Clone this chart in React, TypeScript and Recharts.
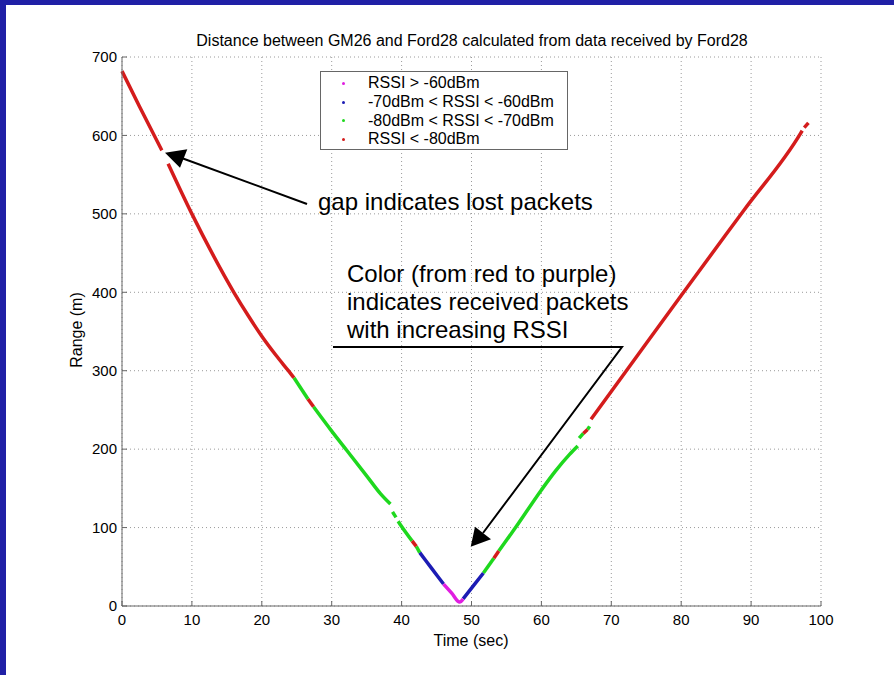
import { CartesianGrid, Legend, Line, LineChart, XAxis, YAxis } from "recharts";

const TIME_TICKS = [0, 10, 20, 30, 40, 50, 60, 70, 80, 90, 100];
const RANGE_TICKS = [0, 100, 200, 300, 400, 500, 600, 700];

const RSSI_LABELS = [
  "RSSI > -60dBm",
  "-70dBm < RSSI < -60dBm",
  "-80dBm < RSSI < -70dBm",
  "RSSI < -80dBm",
];
const RSSI_COLORS = ["#e01ee0", "#1c1cb4", "#1ed81e", "#d41c1c"];

// runs of received packets, [time (sec), range (m)], one list per RSSI class
const purpleRuns = [
  [[46, 28], [47.2, 16], [48.3, 5], [48.8, 9]],
];
const blueRuns = [
  [[42.6, 68], [44.3, 48], [46, 28]],
  [[48.8, 9], [50.2, 25], [51.7, 42]],
];
const greenRuns = [
  [[24.6, 291], [26.6, 264]],
  [[27.4, 254], [30, 223], [32.2, 198], [35, 166], [37, 143], [38.4, 130]],
  [[38.7, 120], [39.2, 113]],
  [[39.5, 108], [39.8, 104], [41.5, 83]],
  [[42.1, 76], [42.6, 68]],
  [[51.7, 42], [53.2, 61]],
  [[53.9, 70], [56.3, 100], [60, 148], [62, 172], [64, 193], [65.2, 204]],
  [[65.4, 214], [66, 220]],
  [[66.6, 225], [66.9, 229]],
];
const redRuns = [
  [[0, 682], [2.5, 637], [5.7, 581]],
  [[6.6, 564], [10, 500], [13, 448], [16, 400], [18, 371], [20, 344], [22, 320], [23.8, 300], [24.6, 291]],
  [[26.6, 264], [27.4, 254]],
  [[41.5, 83], [42.1, 76]],
  [[53.2, 61], [53.9, 70]],
  [[66, 220], [66.6, 225]],
  [[67.1, 238], [72, 298], [80, 396], [89, 505], [97.1, 603], [97.3, 606]],
  [[97.6, 610], [98.2, 616]],
];

const FONT = '"Liberation Sans", Arial, Helvetica, sans-serif';
const AXIS = "#666";

function RssiLegend() {
  return (
    <div
      style={{
        width: 248,
        height: 79,
        border: `1px solid ${AXIS}`,
        background: "#fff",
        paddingTop: 2,
        boxSizing: "border-box",
        fontFamily: FONT,
        fontSize: 16,
        color: "#000",
        textAlign: "left",
      }}
    >
      {RSSI_LABELS.map((label, i) => (
        <div key={label} style={{ display: "flex", alignItems: "center", height: 18.7 }}>
          <span
            style={{
              width: 3,
              height: 3,
              borderRadius: 2,
              background: RSSI_COLORS[i],
              marginLeft: 21,
              marginRight: 23,
            }}
          />
          {label}
        </div>
      ))}
    </div>
  );
}

const toRows = (run: number[][]) => run.map(([t, r]) => ({ t, r }));

export default function App() {
  const series = [
    ...greenRuns.map((run) => ({ run, color: RSSI_COLORS[2] })),
    ...redRuns.map((run) => ({ run, color: RSSI_COLORS[3] })),
    ...blueRuns.map((run) => ({ run, color: RSSI_COLORS[1] })),
    ...purpleRuns.map((run) => ({ run, color: RSSI_COLORS[0] })),
  ];

  return (
    <div
      style={{
        position: "absolute",
        left: 0,
        top: 0,
        width: 894,
        height: 675,
        background: "#fff",
        fontFamily: FONT,
        overflow: "hidden",
      }}
    >
      <LineChart
        width={894}
        height={675}
        margin={{ top: 57, right: 73, bottom: 39, left: 72 }}
      >
        <CartesianGrid stroke="#9a9a9a" strokeDasharray="1 3" />
        <XAxis
          dataKey="t"
          type="number"
          domain={[0, 100]}
          ticks={TIME_TICKS}
          height={30}
          tickSize={-5}
          tickMargin={13}
          axisLine={{ stroke: AXIS }}
          tickLine={{ stroke: AXIS }}
          tick={{ fill: "#000", fontSize: 15, fontFamily: FONT }}
        />
        <XAxis
          xAxisId="top"
          orientation="top"
          type="number"
          domain={[0, 100]}
          ticks={TIME_TICKS}
          height={0}
          tickSize={-5}
          tick={false}
          axisLine={{ stroke: AXIS }}
          tickLine={{ stroke: AXIS }}
        />
        <YAxis
          type="number"
          domain={[0, 700]}
          ticks={RANGE_TICKS}
          width={50}
          tickSize={-5}
          tickMargin={10}
          axisLine={{ stroke: AXIS }}
          tickLine={{ stroke: AXIS }}
          tick={{ fill: "#000", fontSize: 15, fontFamily: FONT }}
        />
        <YAxis
          yAxisId="right"
          orientation="right"
          type="number"
          domain={[0, 700]}
          ticks={RANGE_TICKS}
          width={0}
          tickSize={-5}
          tick={false}
          axisLine={{ stroke: AXIS }}
          tickLine={{ stroke: AXIS }}
        />
        <Legend
          verticalAlign="middle"
          content={() => <RssiLegend />}
          wrapperStyle={{ position: "absolute", left: 320, top: 71, width: 248, height: 79 }}
        />
        {series.map((s, i) => (
          <Line
            key={i}
            data={toRows(s.run)}
            dataKey="r"
            type="monotone"
            stroke={s.color}
            strokeWidth={3.5}
            dot={false}
            activeDot={false}
            isAnimationActive={false}
            legendType="none"
          />
        ))}
      </LineChart>

      <svg
        width={894}
        height={675}
        style={{ position: "absolute", left: 0, top: 0, pointerEvents: "none" }}
        fontFamily={FONT}
      >
        <text x={472} y={46} fontSize={16} textAnchor="middle" fill="#000">
          Distance between GM26 and Ford28 calculated from data received by Ford28
        </text>
        <text x={471} y={646} fontSize={16} textAnchor="middle" fill="#000">
          Time (sec)
        </text>
        <text
          x={82}
          y={330}
          fontSize={16}
          textAnchor="middle"
          fill="#000"
          transform="rotate(-90 82 330)"
        >
          Range (m)
        </text>

        <text x={318} y={209.5} fontSize={24} fill="#000">
          gap indicates lost packets
        </text>
        <line x1={307} y1={204} x2={183} y2={158.5} stroke="#000" strokeWidth={2} />
        <polygon points="165,152.7 187.3,149.3 180,167.7" fill="#000" />

        <text x={347} y={282} fontSize={24} fill="#000">
          Color (from red to purple)
        </text>
        <text x={347} y={310} fontSize={24} fill="#000">
          indicates received packets
        </text>
        <text x={347} y={338} fontSize={24} fill="#000">
          with increasing RSSI
        </text>
        <polyline
          points="333,347 622,347 483,533"
          fill="none"
          stroke="#000"
          strokeWidth={2}
        />
        <polygon points="470.7,546.7 475,526.7 491,539.3" fill="#000" />
      </svg>

      <div style={{ position: "absolute", left: 0, top: 0, width: 894, height: 5, background: "#2020a6" }} />
      <div style={{ position: "absolute", left: 0, top: 0, width: 6, height: 675, background: "#2020a6" }} />
    </div>
  );
}
